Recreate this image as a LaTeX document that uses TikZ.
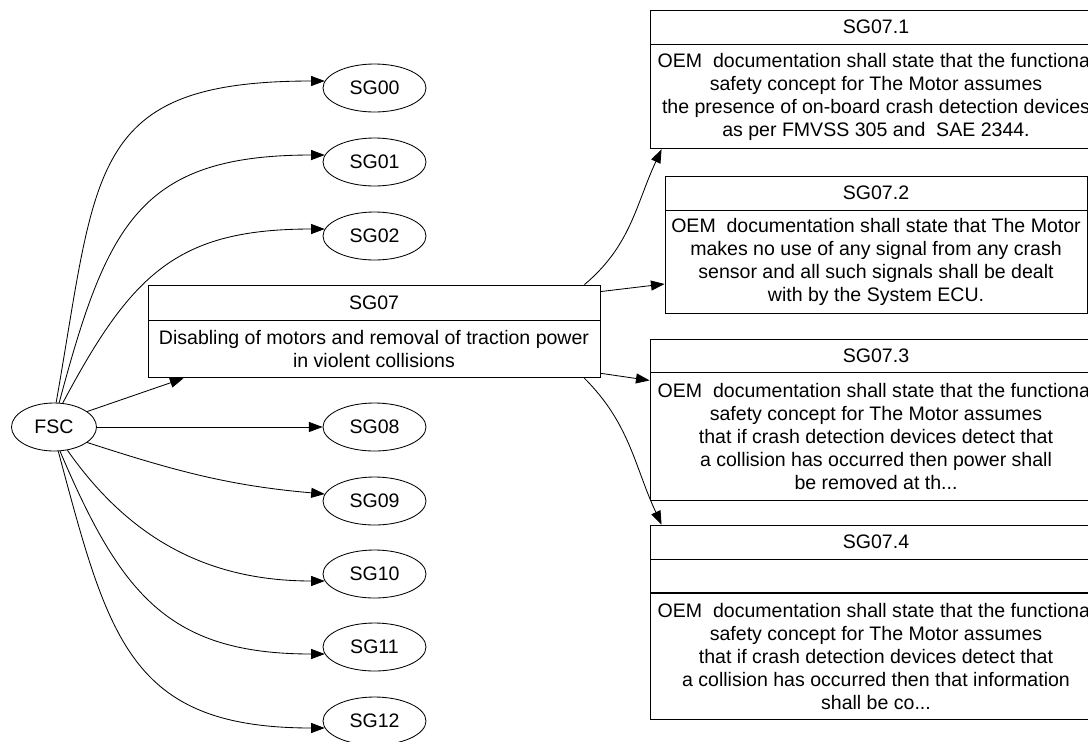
\documentclass[tikz,border=0pt]{standalone}
\usepackage{fontspec}
\setmainfont{Liberation Sans}
\usetikzlibrary{arrows.meta,positioning,shapes.geometric}

\begin{document}
\begin{tikzpicture}[font=\fontsize{13.9}{16.4}\selectfont,line width=0.6pt,
 goal/.style={draw,ellipse,minimum width=2.575cm,minimum height=1.2cm,inner sep=0pt},
 head/.style={draw,minimum width=11.3cm,minimum height=0.85cm,inner sep=0pt},
 txt/.style={draw,align=center,minimum width=11.3cm,inner sep=0pt},
 arr/.style={-{Triangle[length=3.4mm,width=2.5mm]}}]
\useasboundingbox (0,0) rectangle (27.2,-18.525);
\clip (0,0) rectangle (27.2,-18.525);
% root and single goals
\node[goal,minimum width=2.125cm] (fsc) at (1.35,-10.675) {FSC};
\node[goal] (sg00) at (9.3625,-2.2) {SG00};
\node[goal] (sg01) at (9.3625,-4.05) {SG01};
\node[goal] (sg02) at (9.3625,-5.9) {SG02};
\node[goal] (sg08) at (9.3625,-10.675) {SG08};
\node[goal] (sg09) at (9.3625,-12.525) {SG09};
\node[goal] (sg10) at (9.3625,-14.35) {SG10};
\node[goal] (sg11) at (9.3625,-16.175) {SG11};
\node[goal] (sg12) at (9.3625,-18.025) {SG12};
% SG07 and its sub goals
\node[head,minimum height=0.875cm] (sg07) at (9.35,-7.5625) {SG07};
\node[txt,minimum height=1.425cm,below=0pt of sg07] (sg07txt) {Disabling of motors and removal of traction power\\in violent collisions};
\node[head] (sg071) at (21.9,-0.675) {SG07.1};
\node[txt,minimum height=2.6cm,below=0pt of sg071] (sg071txt) {OEM\ \ documentation shall state that the functional\\safety concept for The Motor assumes\\the presence of on-board crash detection devices\\as per FMVSS 305 and\ \ SAE 2344.};
\node[head,minimum width=10.55cm] (sg072) at (21.9,-4.825) {SG07.2};
\node[txt,minimum width=10.55cm,minimum height=2.575cm,below=0pt of sg072] (sg072txt) {OEM\ \ documentation shall state that The Motor\\makes no use of any signal from any crash\\sensor and all such signals shall be dealt\\with by the System ECU.};
\node[head,minimum height=0.825cm] (sg073) at (21.9,-8.8875) {SG07.3};
\node[txt,minimum height=3.2cm,below=0pt of sg073] (sg073txt) {OEM\ \ documentation shall state that the functional\\safety concept for The Motor assumes\\that if crash detection devices detect that\\a collision has occurred then power shall\\be removed at th...};
\node[head] (sg074) at (21.9,-13.55) {SG07.4};
\node[head,minimum height=0.825cm,below=0pt of sg074] (sg074gap) {};
\node[txt,minimum height=3.15cm,below=0pt of sg074gap] (sg074txt) {OEM\ \ documentation shall state that the functional\\safety concept for The Motor assumes\\that if crash detection devices detect that\\a collision has occurred then that information\\shall be co...};
% edges
\draw[arr] (fsc.85) to[out=80,in=180,looseness=1.45] (sg00.172);
\draw[arr] (fsc.78) to[out=75,in=180,looseness=1.3] (sg01.172);
\draw[arr] (fsc.70) to[out=62,in=180,looseness=1.2] (sg02.172);
\draw[arr] (fsc.25)--([xshift=0.9cm]sg07txt.south west);
\draw[arr] (fsc)--(sg08);
\draw[arr] (fsc.-25) to[out=-18,in=175] (sg09.172);
\draw[arr] (fsc.-60) to[out=-55,in=180] (sg10.188);
\draw[arr] (fsc.-76) to[out=-67,in=180,looseness=1.2] (sg11.188);
\draw[arr] (fsc.-80) to[out=-75,in=180,looseness=1.3] (sg12.188);
\draw[arr] ([xshift=-0.4cm]sg07.north east) to[out=40,in=-115] ([xshift=0.3cm]sg071txt.south west);
\draw[arr] ([yshift=-0.175cm]sg07.north east)--([yshift=-0.54cm]sg072txt.west);
\draw[arr] ([yshift=0.125cm]sg07txt.south east)--([yshift=-0.2cm]sg073txt.north west);
\draw[arr] ([xshift=-0.4cm]sg07txt.south east) to[out=-45,in=115] ([xshift=0.3cm]sg074.north west);
\end{tikzpicture}
\end{document}
